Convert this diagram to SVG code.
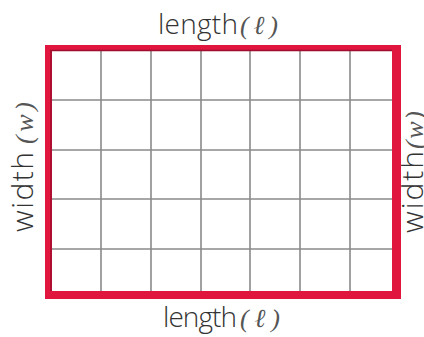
<svg xmlns="http://www.w3.org/2000/svg" width="424" height="337" viewBox="0 0 424 337">
<style>
.lbl{font-family:"Open Sans","Liberation Sans",sans-serif;font-weight:300;font-size:28px;fill:#333}
.wd{font-size:30px}
.sym{font-family:"Liberation Serif","DejaVu Serif",serif;font-style:italic;font-weight:normal;font-size:26px;fill:#555}
.grid line{stroke:#8a8a8a;stroke-width:1.6}
</style>
<rect x="0" y="0" width="424" height="337" fill="#fff"/>
<g id="grid" class="grid">
<line x1="101" y1="51" x2="101" y2="291"/>
<line x1="151" y1="51" x2="151" y2="291"/>
<line x1="201" y1="51" x2="201" y2="291"/>
<line x1="250" y1="51" x2="250" y2="291"/>
<line x1="300" y1="51" x2="300" y2="291"/>
<line x1="350" y1="51" x2="350" y2="291"/>
<line x1="52" y1="100" x2="392" y2="100"/>
<line x1="52" y1="150" x2="392" y2="150"/>
<line x1="52" y1="199" x2="392" y2="199"/>
<line x1="52" y1="249" x2="392" y2="249"/>
</g>
<g id="border">
<path d="M45 45H401V299H45Z M52 51V291H392V51Z" fill="#e0163f" fill-rule="evenodd"/>
<path d="M51 291V50.5H392" fill="none" stroke="#9e0e2c" stroke-width="1.5"/>
</g>
<g id="label-top">
<text class="lbl" x="158" y="34"><tspan textLength="80">length</tspan><tspan class="sym" x="240" textLength="38">(ℓ)</tspan></text>
</g>
<g id="label-bottom">
<text class="lbl" x="163" y="327"><tspan textLength="74">length</tspan><tspan class="sym" x="240" textLength="40">(ℓ)</tspan></text>
</g>
<g id="label-left">
<text class="lbl wd" transform="translate(33,232) rotate(-90)" x="0" y="0"><tspan textLength="80">width</tspan><tspan class="sym" x="88" textLength="42">(w)</tspan></text>
</g>
<g id="label-right">
<text class="lbl wd" transform="translate(423,233) rotate(-90)" x="0" y="0"><tspan textLength="82">width</tspan><tspan class="sym" x="84" textLength="38">(w)</tspan></text>
</g>
</svg>
